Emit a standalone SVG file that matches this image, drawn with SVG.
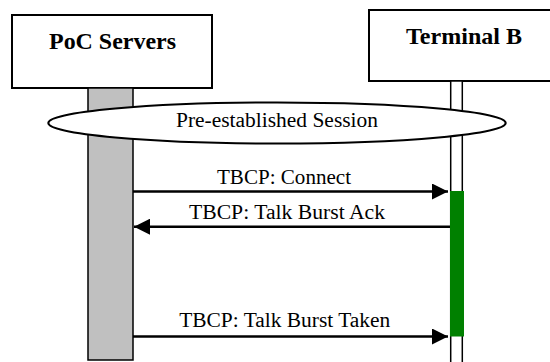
<svg xmlns="http://www.w3.org/2000/svg" width="550" height="362" viewBox="0 0 550 362">
<style>
.box{fill:#fff;stroke:#000;stroke-width:2}
text{font-family:"Liberation Serif","Times New Roman",Times,"DejaVu Serif",serif}
.title{font-weight:bold;font-size:23px;text-anchor:middle}
.lbl{font-size:20px;text-anchor:middle}
.msg{stroke:#000;stroke-width:2.5;fill:none}
</style>
<defs>
<marker id="ah" markerUnits="userSpaceOnUse" markerWidth="16" markerHeight="16" viewBox="0 0 16 16" refX="16" refY="8" orient="auto">
<path d="M0,0 L16,8 L0,16 Z" fill="#000"/>
</marker>
</defs>
<g id="poc-servers">
<rect class="box" x="12" y="15" width="200" height="73"/>
<text class="title" x="112.5" y="49" textLength="127" lengthAdjust="spacingAndGlyphs">PoC Servers</text>
<rect x="88" y="88" width="45" height="272" fill="#c0c0c0" stroke="#000" stroke-width="1.5"/>
</g>
<g id="terminal-b">
<rect class="box" x="369" y="10" width="190" height="71"/>
<text class="title" x="464" y="44" textLength="116" lengthAdjust="spacingAndGlyphs">Terminal B</text>
<rect x="450.7" y="81" width="11.6" height="290" fill="#fff" stroke="#000" stroke-width="1.5"/>
<rect x="450" y="191" width="14" height="145.5" fill="#008000"/>
</g>
<g id="pre-established-session">
<ellipse cx="277" cy="123" rx="228.7" ry="20.5" fill="#fff" stroke="#000" stroke-width="2"/>
<text class="lbl" x="277" y="127" textLength="202" lengthAdjust="spacingAndGlyphs">Pre-established Session</text>
</g>
<g id="connectors">
<line class="msg" x1="133" y1="191.5" x2="448" y2="191.5" marker-end="url(#ah)"/>
<text class="lbl" x="284" y="183.5" textLength="134" lengthAdjust="spacingAndGlyphs">TBCP: Connect</text>
<line class="msg" x1="450" y1="226.7" x2="134" y2="226.7" marker-end="url(#ah)"/>
<text class="lbl" x="287" y="218.5" textLength="196" lengthAdjust="spacingAndGlyphs">TBCP: Talk Burst Ack</text>
<line class="msg" x1="133" y1="336.5" x2="448" y2="336.5" marker-end="url(#ah)"/>
<text class="lbl" x="284.7" y="327" textLength="211" lengthAdjust="spacingAndGlyphs">TBCP: Talk Burst Taken</text>
</g>
</svg>
